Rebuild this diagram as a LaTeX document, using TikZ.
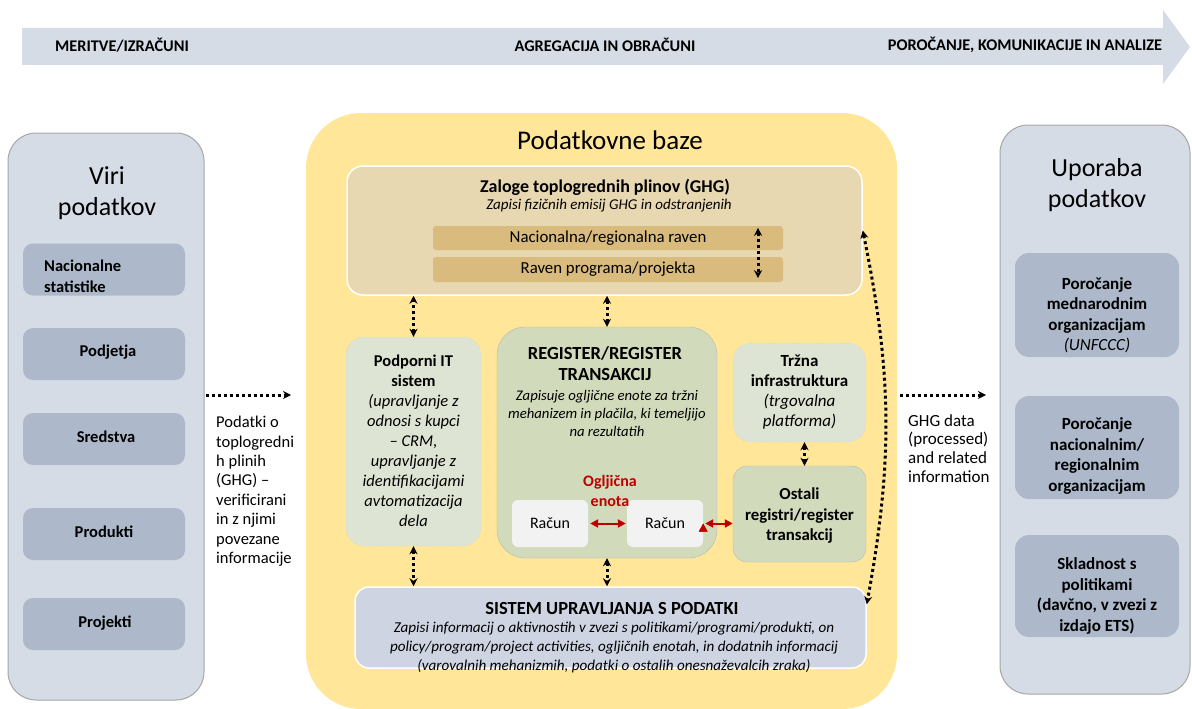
\documentclass[tikz,border=0pt]{standalone}
\usepackage{fontspec}
\setmainfont{Carlito}
\usetikzlibrary{arrows.meta,positioning,calc}

\definecolor{bandblue}{HTML}{D6DCE5}
\definecolor{panelline}{HTML}{A6A6A6}
\definecolor{innerblue}{HTML}{ADB9CA}
\definecolor{dbyellow}{HTML}{FFE699}
\definecolor{ghgtan}{HTML}{E8D8B2}
\definecolor{bartan}{HTML}{D8BB7D}
\definecolor{itgreen}{HTML}{DEE4D4}
\definecolor{itline}{HTML}{BFBFBF}
\definecolor{reggreen}{HTML}{D1DBBB}
\definecolor{regline}{HTML}{B8B8B8}
\definecolor{acctwhite}{HTML}{F2F2F2}
\definecolor{sysblue}{HTML}{CFD4E2}
\definecolor{carbonred}{HTML}{C00000}

\begin{document}
\begin{tikzpicture}[x=1pt, y=-1pt, >={Stealth[length=8pt,width=8pt]},
  every edge/.style={draw},
  panel/.style={draw=panelline, line width=1pt, fill=bandblue, rounded corners=28pt, inner sep=0pt},
  paneltitle/.style={align=center, font=\fontsize{26}{31}\selectfont},
  srcbox/.style={fill=innerblue, rounded corners=10pt, minimum width=162pt, minimum height=52pt, inner sep=0pt},
  srctext/.style={font=\fontsize{16.5}{21}\selectfont\bfseries, align=left, inner sep=0pt},
  usebox/.style={fill=innerblue, rounded corners=14pt, minimum width=164pt, inner sep=0pt},
  usetext/.style={align=center, inner sep=0pt, font=\fontsize{17}{20.5}\selectfont\bfseries},
  bar/.style={fill=bartan, rounded corners=3pt, minimum width=350pt, inner sep=0pt, font=\fontsize{16.8}{18}\selectfont},
  sidebox/.style={fill=itgreen, draw=itline, dotted, rounded corners=18pt, inner sep=0pt},
  regbox/.style={fill=reggreen, draw=regline, rounded corners=28pt, inner sep=0pt},
  boxtext/.style={align=center, inner sep=0pt, font=\fontsize{16.5}{20}\selectfont},
  acct/.style={fill=acctwhite, rounded corners=6pt, minimum width=76pt, minimum height=47pt, inner sep=0pt, font=\fontsize{16}{18}\selectfont},
  dotarrow/.style={line width=3pt, dash pattern=on 3pt off 3pt},
  redarrow/.style={draw=carbonred, line width=2pt, >={Triangle[length=8pt,width=8pt]}},
  flowtext/.style={align=left, anchor=north west, inner sep=0pt, font=\fontsize{16.5}{19.4}\selectfont},
  bandtext/.style={font=\fontsize{16.3}{18}\selectfont\bfseries, inner sep=0pt}]

\useasboundingbox (0,0) rectangle (1192,709);

% process band
\fill[bandblue] (22,28) -- (1163,28) -- (1163,10) -- (1190,47) -- (1163,84) -- (1163,65) -- (22,65) -- cycle;
\node[bandtext] (meas) at (122,45) {MERITVE/IZRAČUNI};
\node[bandtext] (aggr) at (605,45) {AGREGACIJA IN OBRAČUNI};
\node[bandtext] (repo) at (1025,45) {POROČANJE, KOMUNIKACIJE IN ANALIZE};

% data sources
\node[panel, minimum width=196pt, minimum height=567pt] (viri) at (106,416.5) {};
\node[paneltitle] (viritxt) at (107,193) {Viri\\podatkov};
\node[srcbox] (stat) at (104,269.5) {};
\node[srctext, anchor=west] (stattxt) at (44,276) {Nacionalne\\statistike};
\node[srcbox] (podj) at (104,354) {};
\node[srctext] at (108,352) {Podjetja};
\node[srcbox] (sred) at (104,439) {};
\node[srctext] at (106,437) {Sredstva};
\node[srcbox] (prod) at (104,534) {};
\node[srctext] at (104,532) {Produkti};
\node[srcbox] (proj) at (104,624) {};
\node[srctext] at (105,623) {Projekti};

% databases
\node[fill=dbyellow, rounded corners=55pt, minimum width=591pt, minimum height=596pt, inner sep=0pt] (baze) at (601.5,411) {};
\node[font=\fontsize{27}{30}\selectfont] (bazetxt) at (610,140) {Podatkovne baze};

\node[fill=ghgtan, draw=white, line width=1.5pt, rounded corners=16pt, minimum width=515pt, minimum height=129pt, inner sep=0pt] (ghg) at (604.5,230.5) {};
\node[inner sep=0pt, font=\fontsize{18}{20}\selectfont\bfseries] (ghgtitle) at (605,187) {Zaloge toplogrednih plinov (GHG)};
\node[inner sep=0pt, font=\fontsize{15}{17}\selectfont\itshape] (ghgsub) at (609,206) {Zapisi fizičnih emisij GHG in odstranjenih};
\node[bar, minimum height=24pt] (natl) at (608,238) {Nacionalna/regionalna raven};
\node[bar, minimum height=25pt] (prog) at (608,269.5) {Raven programa/projekta};

\node[sidebox, minimum width=135pt, minimum height=209pt] (itsys) at (413.5,441.5) {};
\node[boxtext] (ittxt) at (413.5,441) {\textbf{Podporni IT}\\\textbf{sistem}\\\textit{(upravljanje z}\\\textit{odnosi s kupci}\\\textit{– CRM,}\\\textit{upravljanje z}\\\textit{identifikacijami}\\\textit{avtomatizacija}\\\textit{dela}};

\node[regbox, minimum width=220pt, minimum height=231pt] (reg) at (607,442.5) {};
\node[align=center, inner sep=0pt, font=\fontsize{18.5}{21}\selectfont\bfseries] (regtitle) at (605,364) {REGISTER/REGISTER\\TRANSAKCIJ};
\node[align=center, inner sep=0pt, font=\fontsize{14.7}{18}\selectfont\itshape] (regsub) at (607,413) {Zapisuje ogljične enote za tržni\\mehanizem in plačila, ki temeljijo\\na rezultatih};
\node[acct] (acct1) at (550,523.5) {Račun};
\node[acct] (acct2) at (665,523.5) {Račun};
\node[align=center, inner sep=0pt, text=carbonred, font=\fontsize{16}{20}\selectfont\bfseries] (unit) at (610,491) {Ogljična\\enota};

\node[sidebox, minimum width=133pt, minimum height=99pt] (market) at (799.5,392.5) {};
\node[boxtext, font=\fontsize{17}{20}\selectfont] (markettxt) at (799.5,392) {\textbf{Tržna}\\\textbf{infrastruktura}\\\textit{(trgovalna}\\\textit{platforma)}};
\node[regbox, rounded corners=14pt, minimum width=133pt, minimum height=96pt] (other) at (799.5,514) {};
\node[boxtext, font=\fontsize{16.8}{20.5}\selectfont\bfseries] (othertxt) at (799.5,516) {Ostali\\registri/register\\transakcij};

\node[fill=sysblue, draw=white, line width=1.5pt, rounded corners=14pt, minimum width=511pt, minimum height=81pt, inner sep=0pt] (sys) at (610.5,627.5) {};
\node[inner sep=0pt, font=\fontsize{18.5}{20}\selectfont\bfseries] (systitle) at (612,608) {SISTEM UPRAVLJANJA S PODATKI};
\node[align=center, inner sep=0pt, font=\fontsize{15.1}{19}\selectfont\itshape] (syssub) at (614,647) {Zapisi informacij o aktivnostih v zvezi s politikami/programi/produkti, on\\policy/program/project activities, ogljičnih enotah, in dodatnih informacij\\(varovalnih mehanizmih, podatki o ostalih onesnaževalcih zraka)};

% data use
\node[panel, minimum width=190pt, minimum height=569pt] (upor) at (1095,409.5) {};
\node[paneltitle] (uportxt) at (1097,185) {Uporaba\\podatkov};
\node[usebox, minimum height=104pt] (intl) at (1097,305) {};
\node[usetext] (intltxt) at (1097,315) {Poročanje\\mednarodnim\\organizacijam\\\textnormal{\textit{(UNFCCC)}}};
\node[usebox, minimum height=103pt] (natrep) at (1097,447.5) {};
\node[usetext] (natreptxt) at (1097,456) {Poročanje\\nacionalnim/\\regionalnim\\organizacijam};
\node[usebox, minimum height=102pt] (comp) at (1097,586) {};
\node[usetext] (comptxt) at (1097,596) {Skladnost s\\politikami\\(davčno, v zvezi z\\izdajo ETS)};

% flows in and out
\coordinate (srcout) at (206,395);
\coordinate (dbin) at (291,395);
\coordinate (dbout) at (900,395);
\coordinate (usein) at (986,395);
\node[flowtext] (intxt) at (216,416) {Podatki o\\toplogredni\\h plinih\\(GHG) –\\verificirani\\in z njimi\\povezane\\informacije};
\node[flowtext, font=\fontsize{17}{18.8}\selectfont] (outtxt) at (908,414) {GHG data\\(processed)\\and related\\information};

\path[->, dotarrow]
(srcout) edge (dbin)
(dbout) edge (usein);

\path[<->, dotarrow]
(itsys.north) edge (itsys.north |- ghg.south)
(reg.north) edge (reg.north |- ghg.south)
(itsys.south) edge (itsys.south |- sys.north)
(reg.south) edge (reg.south |- sys.north)
([xshift=5pt]market.south) edge ([xshift=5pt]other.north)
([xshift=150pt,yshift=-2pt]natl.north) edge ([xshift=150pt,yshift=4pt]prog.south)
(ghg.east) edge [bend left=11] ([yshift=-18pt]sys.north east);

\path[<->, redarrow]
(acct1) edge[shorten <=2pt, shorten >=1pt] (acct2)
(acct2.east) edge[shorten <=2pt] (acct2.east -| other.west);
\end{tikzpicture}
\end{document}
